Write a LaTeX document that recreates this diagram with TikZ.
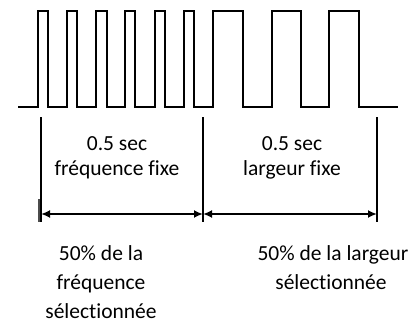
\documentclass[tikz,border=0pt]{standalone}
\usepackage{fontspec}
\setmainfont{Carlito}[Ligatures=NoCommon]
\usetikzlibrary{arrows.meta}
\begin{document}
\begin{tikzpicture}[x=1pt,y=-1pt,
  signal/.style={line width=2.5pt, line join=miter},
  marker/.style={line width=1.5pt},
  span/.style={line width=2pt, {Latex[length=9pt,width=8pt]}-{Latex[length=9pt,width=8pt]}},
  lbl/.style={anchor=base, inner sep=0pt, font=\fontsize{21.5}{26}\selectfont}]
\useasboundingbox (0,0) rectangle (416,324);
% pulse train
\draw[signal] (18,107)
  foreach \a/\b in {38/48, 67/77, 96/107, 125/135, 155/165, 184/194, 213/243, 272/301, 329/359}
  { -- (\a,107) -- (\a,11) -- (\b,11) -- (\b,107) } -- (398,107);
% markers
\coordinate (l1) at (41,117);  \coordinate (l2) at (41,222);
\coordinate (m1) at (203,117); \coordinate (m2) at (203,222);
\coordinate (r1) at (377,117); \coordinate (r2) at (377,222);
\coordinate (lb1) at (39,199); \coordinate (lb2) at (39,222);
\draw[marker] (l1) -- (l2);
\draw[marker] (m1) -- (m2);
\draw[marker] (r1) -- (r2);
\draw[line width=1.4pt, black!70] (lb1) -- (lb2);
% spans
\coordinate (a1) at (41,214); \coordinate (a2) at (203,214); \coordinate (a3) at (377,214);
\draw[span] (a1) -- (a2);
\draw[span] (a2) -- (a3);
% labels
\node[lbl] (t1) at (117,150) {0.5 sec};
\node[lbl] (t2) at (117,175) {fréquence fixe};
\node[lbl] (t3) at (292,150) {0.5 sec};
\node[lbl] (t4) at (292,175) {largeur fixe};
\node[lbl] (b1) at (101,260) {50\% de la};
\node[lbl] (b2) at (101,289) {fréquence};
\node[lbl] (b3) at (101,318) {sélectionnée};
\node[lbl] (b4) at (333,260) {50\% de la largeur};
\node[lbl] (b5) at (331,289) {sélectionnée};
\end{tikzpicture}
\end{document}
